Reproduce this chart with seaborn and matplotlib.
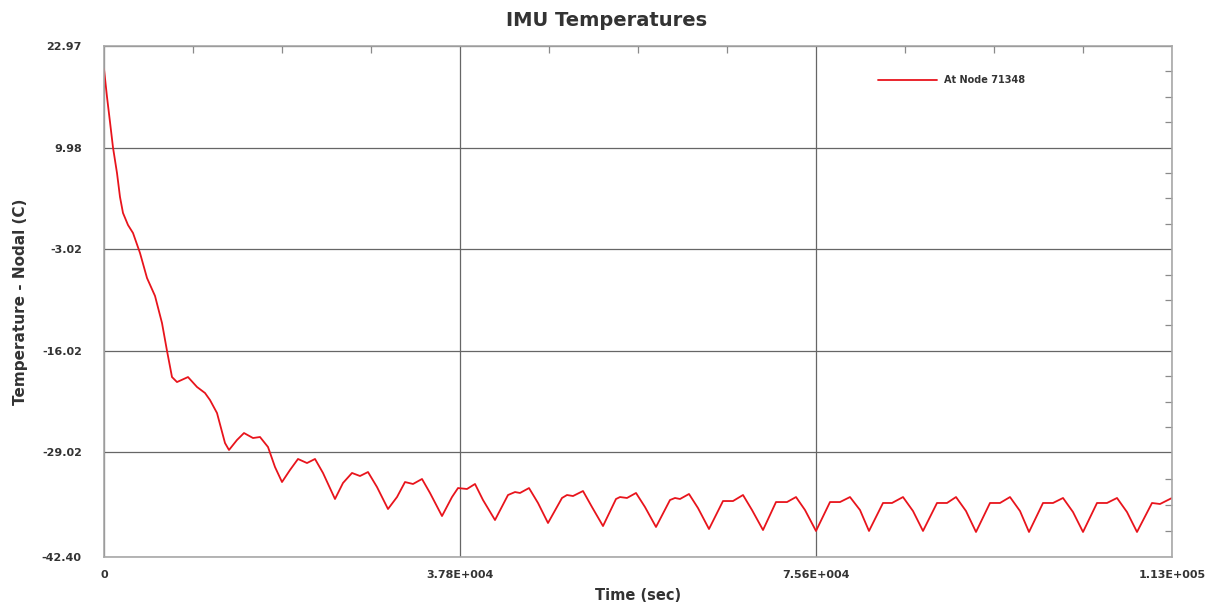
import numpy as np
import pandas as pd
import matplotlib
matplotlib.use("Agg")
import matplotlib.pyplot as plt
import seaborn as sns
from matplotlib.ticker import FixedLocator, NullFormatter

# ---- data ----
time_sec = [0, 319, 637, 956, 1380, 1699, 2017, 2548, 3079, 3822, 4566, 5415, 6158, 6689, 7220,
            7751, 8919, 9875, 10724, 11255, 11998, 12848, 13273, 14122, 14865, 15821, 16564,
            17414, 18157, 18900, 19749, 20599, 21554, 22404, 23253, 24527, 25377, 26333, 27182,
            28031, 28987, 30155, 31111, 31960, 32810, 33765, 34615, 35889, 36951, 37588, 38543,
            39393, 40242, 41516, 42897, 43640, 44171, 45127, 46082, 47144, 48630, 49161, 49798,
            50860, 51816, 52984, 54364, 54789, 55532, 56488, 57443, 58611, 60098, 60629, 61160,
            62115, 63071, 64239, 65725, 66787, 67849, 68805, 69973, 71353, 72521, 73477, 74432,
            75600, 77087, 78148, 79210, 80272, 81228, 82714, 83670, 84838, 85900, 86961, 88448,
            89510, 90465, 91527, 92589, 94075, 95137, 96199, 97261, 98217, 99703, 100765, 101827,
            102889, 103951, 105437, 106499, 107560, 108622, 109684, 111277, 112126, 113400]
temp_c = [20.03, 16.45, 13.25, 9.98, 6.72, 3.65, 1.61, 0.07, -0.95, -3.51, -6.71, -9.00, -12.47,
          -16.02, -19.38, -20.02, -19.38, -20.65, -21.42, -22.32, -23.98, -27.82, -28.71, -27.43,
          -26.54, -27.18, -27.05, -28.33, -30.89, -32.81, -31.27, -29.86, -30.38, -29.86, -31.65,
          -34.98, -32.93, -31.65, -32.04, -31.53, -33.45, -36.26, -34.73, -32.81, -33.06, -32.42,
          -34.21, -37.16, -34.73, -33.58, -33.70, -33.06, -35.11, -37.67, -34.47, -34.09, -34.21,
          -33.58, -35.49, -38.05, -34.85, -34.47, -34.60, -33.96, -36.01, -38.44, -34.98, -34.73,
          -34.85, -34.21, -36.01, -38.56, -35.11, -34.85, -34.98, -34.34, -36.14, -38.82, -35.24,
          -35.24, -34.47, -36.39, -38.95, -35.37, -35.37, -34.73, -36.39, -39.07, -35.37, -35.37,
          -34.73, -36.39, -39.07, -35.49, -35.49, -34.73, -36.52, -39.07, -35.49, -35.49, -34.73,
          -36.52, -39.20, -35.49, -35.49, -34.73, -36.52, -39.20, -35.49, -35.49, -34.85, -36.65,
          -39.20, -35.49, -35.49, -34.85, -36.65, -39.20, -35.49, -35.62, -34.85]
series_name = "At Node 71348"

x_ticks = [0, 37800, 75600, 113400]
x_tick_labels = ["0", "3.78E+004", "7.56E+004", "1.13E+005"]
y_ticks = [-42.40, -29.02, -16.02, -3.02, 9.98, 22.97]
y_tick_labels = ["-42.40", "-29.02", "-16.02", "-3.02", "9.98", "22.97"]

df = pd.DataFrame({"Time (sec)": time_sec, "Temp": temp_c, "series": series_name})

sns.set_style("white")
plt.rcParams['font.family'] = ['DejaVu Sans']

fig = plt.figure(figsize=(12.13, 6.12), dpi=100)
ax = fig.add_axes([104/1213, 1-557/612, (1172-104)/1213, (557-46)/612])

sns.lineplot(data=df, x="Time (sec)", y="Temp", hue="series", palette=["#e8141c"],
             linewidth=1.3, ax=ax, sort=False, estimator=None)

ax.set_xlim(x_ticks[0], x_ticks[-1])
ax.set_ylim(y_ticks[0], y_ticks[-1])

ax.xaxis.set_major_locator(FixedLocator(x_ticks))
ax.set_xticklabels(x_tick_labels)
ax.yaxis.set_major_locator(FixedLocator(y_ticks))
ax.set_yticklabels(y_tick_labels)

def minors(majors, n=4):
    out = []
    for a, b in zip(majors[:-1], majors[1:]):
        out.extend(np.linspace(a, b, n + 1)[1:-1])
    return out

ax.xaxis.set_minor_locator(FixedLocator(minors(x_ticks)))
ax.yaxis.set_minor_locator(FixedLocator(minors(y_ticks)))
ax.xaxis.set_minor_formatter(NullFormatter())
ax.yaxis.set_minor_formatter(NullFormatter())

ax.grid(True, which="major", color="#666666", linewidth=0.9)
ax.tick_params(which="both", direction="in", top=True, right=True, color="#8a8a8a", width=0.9)
ax.tick_params(which="major", length=0)
ax.tick_params(which="minor", length=5)
ax.tick_params(axis="y", which="major", pad=16, labelsize=8, labelcolor="#333333")
ax.tick_params(axis="x", which="major", pad=9, labelsize=8, labelcolor="#333333")
for lab in ax.get_xticklabels() + ax.get_yticklabels():
    lab.set_fontweight("bold")

for s in ax.spines.values():
    s.set_color("#a8a8a8")
    s.set_linewidth(1.2)

ax.set_xlabel("Time (sec)", fontsize=10.5, fontweight="bold", color="#333333", labelpad=6)
ax.set_ylabel("Temperature - Nodal (C)", fontsize=11, fontweight="bold", color="#333333", labelpad=10)
fig.suptitle("IMU Temperatures", fontsize=14, fontweight="bold", color="#333333", y=0.982)

leg = ax.legend(loc="upper right", bbox_to_anchor=(0.871, 0.96), frameon=False,
                prop={"weight": "bold", "size": 7}, handlelength=6, title=None)
for t in leg.get_texts():
    t.set_color("#333333")

fig.savefig("out.png", dpi=100, facecolor="white")
